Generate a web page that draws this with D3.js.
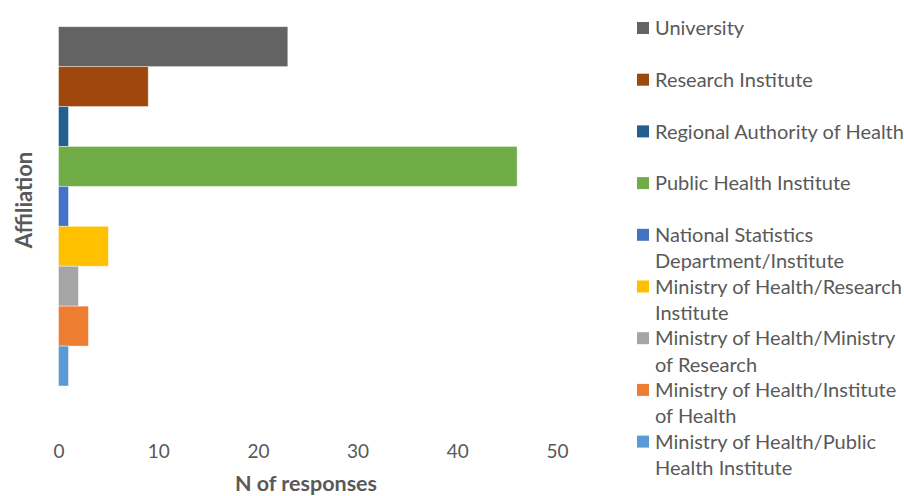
<!DOCTYPE html>
<html>
<head>
<meta charset="utf-8">
<script src="https://cdn.jsdelivr.net/npm/d3@7"></script>
<style>
  body { margin: 0; background: #fff; }
  text { font-family: Lato, 'Open Sans', sans-serif; }
</style>
</head>
<body>
<div id="chart"></div>
<script>
// affiliation of respondents, one bar per group (top to bottom)
const categories = [
  'University',
  'Research Institute',
  'Regional Authority of Health',
  'Public Health Institute',
  'National Statistics Department/Institute',
  'Ministry of Health/Research Institute',
  'Ministry of Health/Ministry of Research',
  'Ministry of Health/Institute of Health',
  'Ministry of Health/Public Health Institute'
];
const responses = [23, 9, 1, 46, 1, 5, 2, 3, 1];
const colors = ['#636363', '#9e480e', '#255e91', '#70ad47', '#4472c4',
                '#ffc000', '#a5a5a5', '#ed7d31', '#5b9bd5'];
// legend labels as they wrap in the picture
const legendLines = [
  ['University'],
  ['Research Institute'],
  ['Regional Authority of Health'],
  ['Public Health Institute'],
  ['National Statistics', 'Department/Institute'],
  ['Ministry of Health/Research', 'Institute'],
  ['Ministry of Health/Ministry', 'of Research'],
  ['Ministry of Health/Institute', 'of Health'],
  ['Ministry of Health/Public', 'Health Institute']
];
const xTicks = [0, 10, 20, 30, 40, 50];

(function() {
  const width = 904;
  const height = 496;
  const textColor = '#595959';

  const svg = d3.select('#chart').append('svg')
    .attr('width', width)
    .attr('height', height);

  const x = d3.scaleLinear().domain([0, 50]).range([58.5, 557]);
  const y = d3.scaleBand().domain(categories).range([26.7, 386]).padding(0);

  svg.append('g')
    .selectAll('rect')
    .data(categories)
    .enter().append('rect')
    .attr('x', x(0))
    .attr('y', d => y(d))
    .attr('width', (d, i) => x(responses[i]) - x(0))
    .attr('height', y.bandwidth())
    .attr('fill', (d, i) => colors[i])
    .attr('stroke', '#ffffff')
    .attr('stroke-opacity', 0.5)
    .attr('stroke-width', 0.8);

  const axis = svg.append('g')
    .attr('transform', 'translate(0,458)')
    .call(d3.axisBottom(x).tickValues(xTicks).tickSize(0).tickPadding(0));
  axis.select('.domain').remove();
  axis.selectAll('text')
    .attr('dy', 0)
    .style('font-family', 'Lato, sans-serif')
    .style('font-size', '19px')
    .attr('fill', textColor);

  svg.append('text')
    .attr('x', 306)
    .attr('y', 491)
    .attr('text-anchor', 'middle')
    .style('font-size', '21.5px')
    .style('font-weight', 700)
    .attr('fill', textColor)
    .text('N of responses');

  svg.append('text')
    .attr('transform', 'translate(32,200) rotate(-90)')
    .attr('text-anchor', 'middle')
    .style('font-size', '22px')
    .style('font-weight', 700)
    .attr('fill', textColor)
    .text('Affiliation');

  // legend: two lines of room per entry
  const legend = svg.append('g')
    .selectAll('g')
    .data(categories)
    .enter().append('g')
    .attr('transform', (d, i) => `translate(637,${28 + i * 51.7})`);

  legend.append('rect')
    .attr('x', 0)
    .attr('y', -6)
    .attr('width', 12)
    .attr('height', 12)
    .attr('fill', (d, i) => colors[i]);

  legend.each(function(d, i) {
    const t = d3.select(this).append('text')
      .attr('x', 18)
      .attr('y', 0)
      .style('font-size', '20px')
      .attr('fill', textColor);
    legendLines[i].forEach((line, j) => {
      t.append('tspan')
        .attr('x', 18)
        .attr('y', j * 26.2)
        .attr('dy', '0.36em')
        .text(line);
    });
  });
})();
</script>
</body>
</html>
